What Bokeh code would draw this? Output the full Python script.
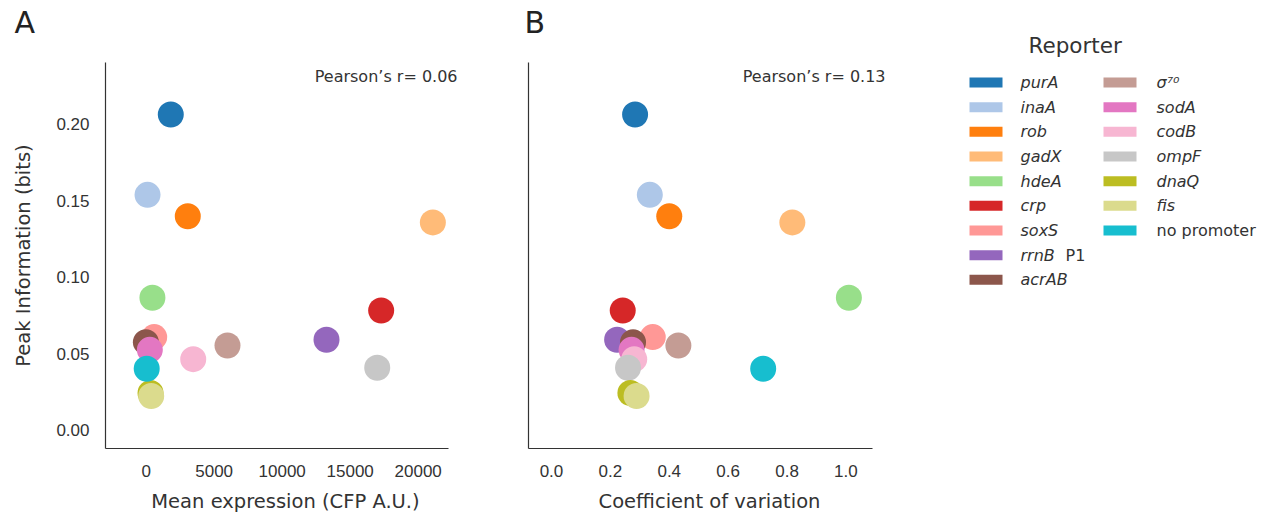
from bokeh.plotting import figure
from bokeh.models import (Range1d, Label, FixedTicker, ColumnDataSource,
                          PrintfTickFormatter)
from bokeh.layouts import row, column
from bokeh.embed import file_html
from bokeh.resources import INLINE
from bokeh.core.properties import value

# Reporter strains, in legend / draw order
reporters = ["purA", "inaA", "rob", "gadX", "hdeA", "crp", "soxS", "rrnB P1",
             "acrAB", "σ⁷⁰", "sodA", "codB", "ompF", "dnaQ", "fis", "no promoter"]
colors = ["#1f77b4", "#aec7e8", "#ff7f0e", "#ffbb78", "#98df8a", "#d62728",
          "#ff9896", "#9467bd", "#8c564b", "#c49c94", "#e377c2", "#f7b6d2",
          "#c7c7c7", "#bcbd22", "#dbdb8d", "#17becf"]
mean_expression = [1810, 100, 3060, 21080, 460, 17280, 590, 13260,
                   -20, 5980, 270, 3460, 16990, 320, 370, 40]
coef_variation = [0.284, 0.334, 0.400, 0.818, 1.010, 0.242, 0.344, 0.223,
                  0.277, 0.431, 0.272, 0.281, 0.260, 0.268, 0.289, 0.719]
peak_info = [0.2065, 0.1540, 0.1400, 0.1360, 0.0867, 0.0784, 0.0610, 0.0593,
             0.0577, 0.0555, 0.0527, 0.0466, 0.0410, 0.0245, 0.0225, 0.0403]
pearson_r = ["0.06", "0.13"]

x_ticks_a = [0, 5000, 10000, 15000, 20000]
x_ticks_b = [0.0, 0.2, 0.4, 0.6, 0.8, 1.0]
y_ticks = [0.00, 0.05, 0.10, 0.15, 0.20]

LABEL_FONT = "DejaVu Sans"
TICK_FONT = "Liberation Sans"
INK = "#333333"

src = ColumnDataSource(dict(mean=mean_expression, cv=coef_variation,
                            info=peak_info, color=colors, name=reporters))

Y_LO, Y_HI = -0.0118, 0.2405
HEADER_H = 60          # strip above the panels holding the panel letters
TOP_GAP = 2            # remaining border above each frame


def style_axes(p):
    for ax in (p.xaxis, p.yaxis):
        ax.axis_line_color = INK
        ax.axis_line_width = 1.2
        ax.major_tick_line_color = None
        ax.minor_tick_line_color = None
        ax.major_label_text_font = TICK_FONT
        ax.major_label_text_font_size = "17px"
        ax.major_label_text_color = INK
        ax.axis_label_text_font = LABEL_FONT
        ax.axis_label_text_font_size = "19.5px"
        ax.axis_label_text_font_style = "normal"
        ax.axis_label_text_color = INK
    p.xaxis.major_label_standoff = 10
    p.yaxis.major_label_standoff = 10
    p.xaxis.axis_label_standoff = 10
    p.grid.visible = False
    p.outline_line_color = None
    p.background_fill_color = "white"
    p.border_fill_color = "white"


def panel(xcol, x_lo, x_hi, x_view_hi, x_ticks, r_text, left, right,
          frame_w, show_ylabels):
    p = figure(frame_width=frame_w, frame_height=386,
               min_border_left=left, min_border_right=right,
               min_border_top=TOP_GAP, min_border_bottom=68,
               x_range=Range1d(x_lo, x_view_hi), y_range=Range1d(Y_LO, Y_HI),
               output_backend="svg", toolbar_location=None)
    style_axes(p)
    p.xaxis.ticker = FixedTicker(ticks=x_ticks)
    p.xaxis.bounds = (x_lo, x_hi)
    if show_ylabels:
        p.yaxis.ticker = FixedTicker(ticks=y_ticks)
        p.yaxis.formatter = PrintfTickFormatter(format="%.2f")
        p.yaxis.axis_label = "Peak Information (bits)"
        p.yaxis.axis_label_standoff = 18
    else:
        p.yaxis.ticker = FixedTicker(ticks=[])
    p.scatter(xcol, "info", source=src, size=26, color="color",
              line_color=None, alpha=1.0)
    p.add_layout(Label(x=(frame_w - 8 if show_ylabels else frame_w - 5),
                       y=372, x_units="screen", y_units="screen",
                       text="Pearson’s r= " + r_text, text_align="right",
                       text_baseline="middle", text_font=LABEL_FONT,
                       text_font_size="16px", text_color=INK))
    return p


# panel A: mean expression; frame runs past the spine so the r label fits
pa = panel("mean", -2990, 22230, -2990 + 360 * 73.53, x_ticks_a,
           pearson_r[0], 105, 15, 360, True)
pa.xaxis.axis_label = "Mean expression (CFP A.U.)"
pa.xaxis.formatter.use_scientific = False

# panel B: coefficient of variation
pb = panel("cv", -0.078, 1.09, -0.078 + 362 * 0.003396, x_ticks_b,
           pearson_r[1], 48, 10, 362, False)
pb.xaxis.axis_label = "Coefficient of variation"
pb.xaxis.formatter = PrintfTickFormatter(format="%.1f")

# Legend panel drawn as its own small canvas (data units = page pixels)
FRAME_TOP = HEADER_H + TOP_GAP
leg = figure(frame_width=365, frame_height=386, min_border_left=0,
             min_border_right=0, min_border_top=TOP_GAP, min_border_bottom=68,
             x_range=Range1d(900, 1265),
             y_range=Range1d(FRAME_TOP + 386, FRAME_TOP),
             output_backend="svg", toolbar_location=None)
leg.axis.visible = False
leg.grid.visible = False
leg.outline_line_color = None

rows_per_col = 9
row_step = 24.67
first_row = 82
col_swatch_x = [985.5, 1119.5]
col_text_x = [1020, 1156]
sw_x, sw_y, txt_x, txt_y, txt, sw_c = [], [], [], [], [], []
plain_x, plain_y, plain_t = [], [], []
for i, (name, c) in enumerate(zip(reporters, colors)):
    col, r = divmod(i, rows_per_col)
    y = first_row + r * row_step
    sw_x.append(col_swatch_x[col])
    sw_y.append(y)
    sw_c.append(c)
    if name == "no promoter":
        plain_x.append(col_text_x[col]); plain_y.append(y); plain_t.append(name)
    elif name == "rrnB P1":
        txt_x.append(col_text_x[col]); txt_y.append(y); txt.append("rrnB")
        plain_x.append(col_text_x[col] + 45); plain_y.append(y); plain_t.append("P1")
    else:
        txt_x.append(col_text_x[col]); txt_y.append(y); txt.append(name)

leg.rect(x=sw_x, y=sw_y, width=33, height=10, color=sw_c, line_color=None)
leg.text(x=txt_x, y=txt_y, text=txt, text_baseline="middle",
         text_font=value(LABEL_FONT), text_font_style="italic",
         text_font_size="16px", text_color=INK)
leg.text(x=plain_x, y=plain_y, text=plain_t, text_baseline="middle",
         text_font=value(LABEL_FONT), text_font_size="16px", text_color=INK)

# Header strip: panel letters and the legend title
header = figure(width=1265, height=HEADER_H, min_border=0,
                x_range=Range1d(0, 1265), y_range=Range1d(HEADER_H, 0),
                output_backend="svg", toolbar_location=None)
header.axis.visible = False
header.grid.visible = False
header.outline_line_color = None
header.text(x=[14, 524], y=[22, 22], text=["A", "B"],
            text_baseline="middle", text_font=value(LABEL_FONT),
            text_font_size="30px", text_color="#222222")
header.text(x=[1028], y=[45], text=["Reporter"], text_baseline="middle",
            text_font=value(LABEL_FONT), text_font_size="21.5px",
            text_color=INK)

layout = column(header, row(pa, pb, leg, spacing=0), spacing=0)
open("out.html", "w").write(file_html(layout, INLINE))
